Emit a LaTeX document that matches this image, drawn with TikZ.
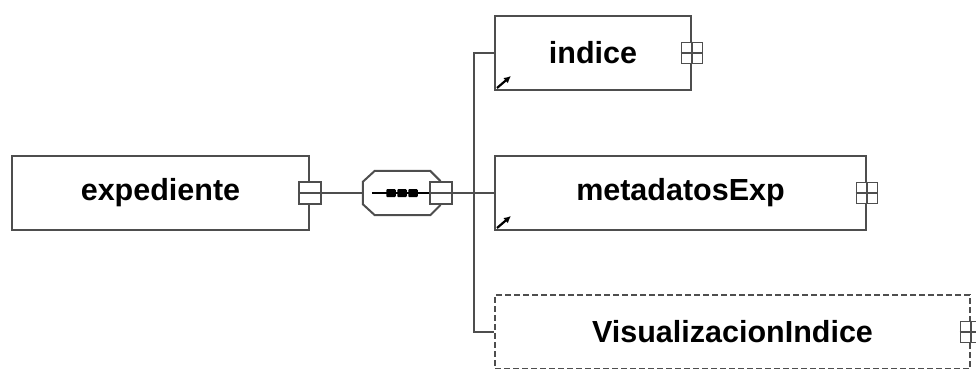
\documentclass[tikz,border=0pt]{standalone}
\usepackage{fontspec}
\setmainfont{Liberation Sans}
\usetikzlibrary{calc,arrows.meta}

\definecolor{edgegray}{RGB}{78,78,78}

\tikzset{
  elembox/.style={draw=edgegray, line width=2pt, fill=white, rectangle,
    minimum height=74pt, inner sep=0pt,
    font=\fontsize{30.5}{36}\selectfont\bfseries},
  optbox/.style={elembox, dash pattern=on 6pt off 3pt},
  toggle/.style={draw=edgegray, line width=1.6pt, fill=white, rectangle,
    minimum width=22pt, minimum height=22pt, inner sep=0pt},
  wire/.style={draw=edgegray, line width=2pt},
  refarrow/.style={draw=black, line width=2.2pt, -{Latex[length=7pt,width=7pt]}},
  seqdot/.style={fill=black, rounded corners=1pt, minimum width=9.5pt,
    minimum height=8pt, inner sep=0pt, rectangle}
}

\begin{document}
\begin{tikzpicture}[x=1pt,y=-1pt]
\useasboundingbox (0,0) rectangle (976,368);
\begin{scope}
\clip (0,0) rectangle (976,368);

% root element
\node[elembox, minimum width=297pt] (exp) at (160.5,193) {expediente};

% sequence compositor
\node[minimum width=77pt, minimum height=44pt, inner sep=0pt] (seq) at (401.5,193) {};
\draw[wire, fill=white]
  ($(seq.north west)+(12,0)$) -- ($(seq.north east)+(-10,0)$)
  -- ($(seq.north east)+(0,10)$) -- ($(seq.south east)+(0,-10)$)
  -- ($(seq.south east)+(-10,0)$) -- ($(seq.south west)+(12,0)$)
  -- ($(seq.south west)+(0,-11)$) -- ($(seq.north west)+(0,11)$) -- cycle;
\coordinate (seqin) at ($(seq.west)+(9,0)$);

% child elements
\node[elembox, minimum width=196pt] (ind) at (593,53) {indice};
\node[elembox, minimum width=371pt] (meta) at (680.5,193) {metadatosExp};
\node[optbox, minimum width=475pt] (vis) at (732.5,332) {VisualizacionIndice};

% expand / collapse toggles
\node[toggle] (expT) at (exp.east) {};
\draw[edgegray, line width=1.6pt] (expT.west) -- (expT.east);

\node[toggle] (seqT) at (441,193) {};
\draw[edgegray, line width=1.6pt] (seqT.west) -- (seqT.east);

\node[toggle, minimum width=21pt, minimum height=21pt] (indT) at (ind.east) {};
\draw[edgegray, line width=1.4pt] (indT.west) -- (indT.east) (indT.north) -- (indT.south);

\node[toggle, minimum width=21pt, minimum height=21pt] (metaT) at (meta.east) {};
\draw[edgegray, line width=1.4pt] (metaT.west) -- (metaT.east) (metaT.north) -- (metaT.south);

\node[toggle, minimum width=21pt, minimum height=21pt] (visT) at (vis.east) {};
\draw[edgegray, line width=1.4pt] (visT.west) -- (visT.east) (visT.north) -- (visT.south);

% sequence marks
\draw[black, line width=1.8pt] (seqin) -- (seqT.west);
\node[seqdot] (d1) at (391,193) {};
\node[seqdot] (d2) at (402,193) {};
\node[seqdot] (d3) at (413,193) {};

% connectors
\coordinate (busTop) at (474,53);
\coordinate (busBot) at (474,332);
\draw[wire] (expT.east) -- (seq.west);
\draw[wire] (seqT.east) -- (meta.west);
\draw[wire] (ind.west) -- (busTop) -- (busBot) -- (vis.west);

% reference arrows
\draw[refarrow] ($(ind.south west)+(3,-3)$) -- ++(14,-12);
\draw[refarrow] ($(meta.south west)+(3,-3)$) -- ++(14,-12);
\end{scope}
\end{tikzpicture}
\end{document}
